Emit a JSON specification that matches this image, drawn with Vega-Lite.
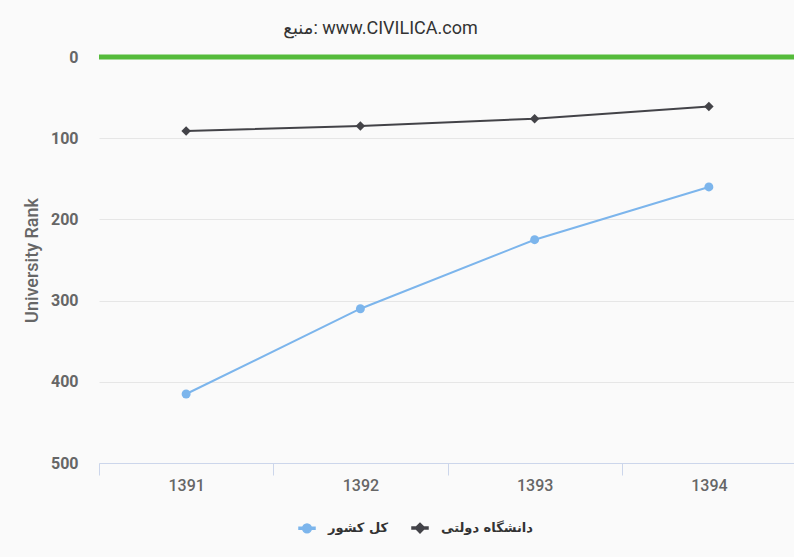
{
  "$schema": "https://vega.github.io/schema/vega-lite/v6.json",
  "width": 697,
  "height": 406,
  "autosize": "none",
  "padding": {"left": 99, "top": 57, "right": 0, "bottom": 94},
  "background": "#fafafa",
  "title": {
    "text": "منبع: www.CIVILICA.com",
    "anchor": "middle",
    "dx": -67,
    "offset": 11,
    "fontSize": 18,
    "fontWeight": "normal",
    "color": "#333333",
    "font": "Roboto, DejaVu Sans"
  },
  "config": {
    "view": {"stroke": null},
    "font": "Roboto, DejaVu Sans",
    "legend": {
      "title": null, "orient": "none", "direction": "horizontal",
      "legendX": 199, "legendY": 462,
      "labelFontSize": 13, "labelFontWeight": "bold", "labelColor": "#333333",
      "labelFont": "DejaVu Sans", "symbolSize": 256, "labelOffset": 12,
      "columnPadding": 20, "symbolOpacity": 1
    }
  },
  "data": {
    "values": [
      {"year": "1391", "series": "کل کشور", "rank": 415},
      {"year": "1392", "series": "کل کشور", "rank": 310},
      {"year": "1393", "series": "کل کشور", "rank": 225},
      {"year": "1394", "series": "کل کشور", "rank": 160},
      {"year": "1391", "series": "دانشگاه دولتی", "rank": 91},
      {"year": "1392", "series": "دانشگاه دولتی", "rank": 85},
      {"year": "1393", "series": "دانشگاه دولتی", "rank": 76},
      {"year": "1394", "series": "دانشگاه دولتی", "rank": 61}
    ]
  },
  "layer": [
    {
      "data": {"values": [{"v": 0}]},
      "mark": {"type": "rule", "color": "#55bb3b", "strokeWidth": 5},
      "encoding": {
        "y": {"field": "v", "type": "quantitative", "scale": {"domain": [0, 500], "reverse": true}}
      }
    },
    {
      "mark": {"type": "line", "strokeWidth": 2},
      "encoding": {
        "x": {
          "field": "year", "type": "ordinal",
          "scale": {"type": "band", "paddingInner": 0, "paddingOuter": 0},
          "axis": {
            "title": null, "labelAngle": 0, "tickBand": "extent",
            "tickSize": 12, "tickColor": "#ccd6eb", "domainColor": "#ccd6eb",
            "labelColor": "#666666", "labelFontSize": 16, "labelFontWeight": 500,
            "labelPadding": 2, "grid": false
          }
        },
        "y": {
          "field": "rank", "type": "quantitative",
          "scale": {"domain": [0, 500], "reverse": true, "nice": false},
          "axis": {
            "title": "University Rank", "values": [0, 100, 200, 300, 400, 500],
            "ticks": false, "domain": false, "gridColor": "#e6e6e6",
            "labelColor": "#666666", "labelFontSize": 16, "labelFontWeight": "bold",
            "labelPadding": 21, "titleColor": "#666666", "titleFontSize": 18,
            "titleFontWeight": 500, "titlePadding": 9
          }
        },
        "color": {
          "field": "series", "type": "nominal",
          "scale": {"domain": ["کل کشور", "دانشگاه دولتی"], "range": ["#7cb5ec", "#434348"]}
        }
      }
    },
    {
      "transform": [{"filter": "datum.series === 'کل کشور'"}],
      "mark": {"type": "point", "shape": "circle", "filled": true, "opacity": 1, "size": 80},
      "encoding": {
        "x": {"field": "year", "type": "ordinal"},
        "y": {"field": "rank", "type": "quantitative"},
        "color": {"field": "series", "type": "nominal"}
      }
    },
    {
      "transform": [{"filter": "datum.series === 'دانشگاه دولتی'"}],
      "mark": {"type": "point", "shape": "diamond", "filled": true, "opacity": 1, "size": 90},
      "encoding": {
        "x": {"field": "year", "type": "ordinal"},
        "y": {"field": "rank", "type": "quantitative"},
        "color": {"field": "series", "type": "nominal"}
      }
    },
    {
      "transform": [{"filter": "false"}],
      "mark": {"type": "point", "filled": true, "opacity": 1},
      "encoding": {
        "x": {"field": "year", "type": "ordinal"},
        "y": {"field": "rank", "type": "quantitative"},
        "color": {"field": "series", "type": "nominal"},
        "shape": {
          "field": "series", "type": "nominal",
          "scale": {
            "domain": ["کل کشور", "دانشگاه دولتی"],
            "range": [
              "M-1,-0.125L1,-0.125L1,0.125L-1,0.125ZM-0.55,0A0.55,0.55,0,1,1,0.55,0A0.55,0.55,0,1,1,-0.55,0Z",
              "M-1,-0.125L1,-0.125L1,0.125L-1,0.125ZM-0.6,0L0,-0.6L0.6,0L0,0.6Z"
            ]
          }
        }
      }
    }
  ]
}
